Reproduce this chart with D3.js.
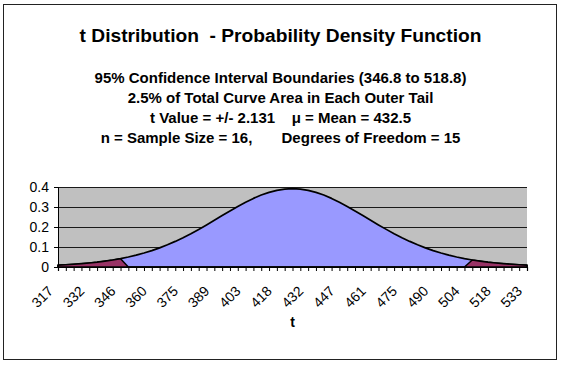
<!DOCTYPE html>
<html><head><meta charset="utf-8">
<script src="https://cdn.jsdelivr.net/npm/d3@7/dist/d3.min.js"></script>
<style>
html,body{margin:0;padding:0;background:#fff;}
text{font-family:"Liberation Sans",Arial,sans-serif;}
</style>
</head><body>
<svg id="c" width="563" height="366"></svg>
<script>
// t distribution density (df = 15), one value per category
const density = [0.0091,0.0111,0.0136,0.0165,0.0200,0.0241,0.0291,0.0349,0.0418,0.0498,
  0.0591,0.0698,0.0819,0.0956,0.1110,0.1280,0.1466,0.1667,0.1881,0.2105,
  0.2336,0.2571,0.2803,0.3028,0.3239,0.3430,0.3597,0.3732,0.3833,0.3894,
  0.3915,
  0.3894,0.3833,0.3732,0.3597,0.3430,0.3239,0.3028,0.2803,0.2571,0.2336,
  0.2105,0.1881,0.1667,0.1466,0.1280,0.1110,0.0956,0.0819,0.0698,0.0591,
  0.0498,0.0418,0.0349,0.0291,0.0241,0.0200,0.0165,0.0136,0.0111,0.0091];
// outer tails (2.5% each) shown in red
const tails = [0.0091,0.0111,0.0136,0.0165,0.0200,0.0241,0.0291,0.0349,0.0418,0,
  0,0,0,0,0,0,0,0,0,0,
  0,0,0,0,0,0,0,0,0,0,
  0,
  0,0,0,0,0,0,0,0,0,0,
  0,0,0,0,0,0,0,0,0,0,
  0,0,0.0349,0.0291,0.0241,0.0200,0.0165,0.0136,0.0111,0.0091];
// category labels shown on every 4th category
const xLabels = ["317","332","346","360","375","389","403","418","432","447","461","475","490","504","518","533"];
const yTicks = [0, 0.1, 0.2, 0.3, 0.4];
const yLabels = ["0","0.1","0.2","0.3","0.4"];
const title = "t Distribution  - Probability Density Function";
const subLines = [
  "95% Confidence Interval Boundaries (346.8 to 518.8)",
  "2.5% of Total Curve Area in Each Outer Tail",
  "t Value = +/- 2.131    \u03bc = Mean = 432.5",
  "n = Sample Size = 16,       Degrees of Freedom = 15"
];
const xTitle = "t";

const svg = d3.select("#c");
const L = 58, R = 527, T = 187, B = 267;
const cats = density.map((d, i) => i);
const x = d3.scalePoint().domain(cats).range([L, R]);
const y = d3.scaleLinear().domain([0, 0.4]).range([B, T]);

// outer border
svg.append("rect").attr("x", 3.5).attr("y", 4.5).attr("width", 553).attr("height", 355)
  .attr("fill", "#fff").attr("stroke", "#222").attr("stroke-width", 1);

// titles
svg.append("text").attr("x", 280.5).attr("y", 42).attr("text-anchor", "middle")
  .attr("font-size", 19.2).attr("font-weight", "bold").style("white-space", "pre")
  .attr("fill", "#000").text(title);
svg.selectAll("text.sub").data(subLines).enter().append("text").attr("class", "sub")
  .attr("x", 280.5).attr("y", (d, i) => 83 + i * 20).attr("text-anchor", "middle")
  .attr("font-size", 15).attr("font-weight", "bold").style("white-space", "pre")
  .attr("fill", "#000").text(d => d);

// plot background
svg.append("rect").attr("x", L).attr("y", T).attr("width", R - L).attr("height", B - T)
  .attr("fill", "#C0C0C0");

// gridlines
svg.append("g").attr("transform", `translate(${L},0)`)
  .call(d3.axisLeft(y).tickValues(yTicks.slice(1)).tickSize(-(R - L)).tickFormat(""))
  .call(g => g.select(".domain").remove())
  .call(g => g.selectAll("line").attr("stroke", "#1a1a1a").attr("stroke-width", 1));

// areas
const area = d3.area().x((d, i) => x(i)).y0(B).y1(d => y(d));
svg.append("path").datum(density).attr("d", area)
  .attr("fill", "#9999FF").attr("stroke", "#000").attr("stroke-width", 1.7)
  .attr("stroke-linejoin", "round");
svg.append("path").datum(tails).attr("d", area)
  .attr("fill", "#993366").attr("stroke", "#000").attr("stroke-width", 1.5)
  .attr("stroke-linejoin", "round");

// y axis
svg.append("g").attr("transform", `translate(${L},0)`)
  .call(d3.axisLeft(y).tickValues(yTicks).tickSize(4).tickPadding(5)
    .tickFormat((d, i) => yLabels[i]))
  .call(g => g.select(".domain").attr("stroke", "#000"))
  .call(g => g.selectAll("line").attr("stroke", "#000"))
  .call(g => g.selectAll("text").attr("font-size", 14).attr("fill", "#000")
    .attr("font-family", "Liberation Sans, Arial, sans-serif"));

// x axis
svg.append("g").attr("transform", `translate(0,${B})`)
  .call(d3.axisBottom(x).tickValues(cats).tickSize(4).tickFormat(""))
  .call(g => g.select(".domain").attr("stroke", "#000").attr("stroke-width", 1.2))
  .call(g => g.selectAll("line").attr("stroke", "#000"));

svg.selectAll("text.xl").data(xLabels).enter().append("text").attr("class", "xl")
  .attr("transform", (d, i) => `translate(${x(i * 4) - 4},${B + 25}) rotate(-45)`)
  .attr("text-anchor", "end").attr("font-size", 14).attr("fill", "#000").text(d => d);

svg.append("text").attr("x", (L + R) / 2).attr("y", 327).attr("text-anchor", "middle")
  .attr("font-size", 14).attr("font-weight", "bold").attr("fill", "#000").text(xTitle);
</script>
</body></html>
